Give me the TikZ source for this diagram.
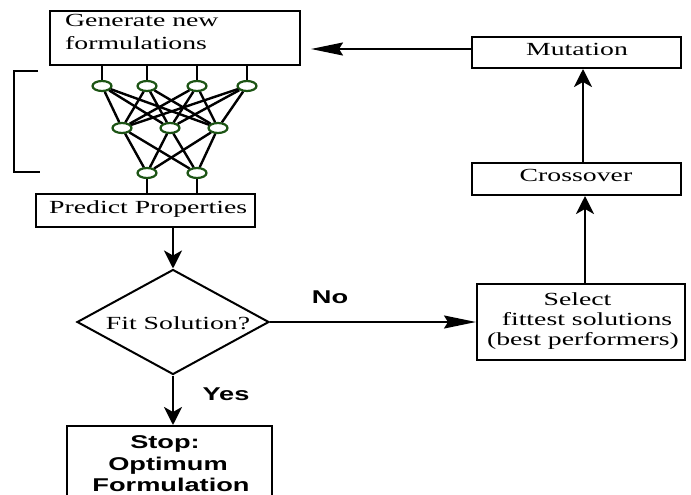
\documentclass[tikz,border=0pt]{standalone}
\usepackage{fontspec}
\setmainfont{Liberation Serif}[FakeStretch=1.5]
\newfontfamily\labelsans{Liberation Sans}[FakeStretch=1.47]
\usetikzlibrary{shapes.geometric,arrows.meta,calc}
\definecolor{netgreen}{RGB}{28,84,20}
\tikzset{
  box/.style={draw, line width=2pt, rectangle, inner sep=0pt, fill=white},
  txt/.style={inner sep=0pt, font=\fontsize{18.5}{22}\selectfont, anchor=base},
  lbl/.style={inner sep=0pt, font=\fontsize{18.5}{22}\selectfont\labelsans\bfseries, anchor=base},
  unit/.style={ellipse, draw=netgreen, line width=2.2pt, fill=white,
    minimum width=19pt, minimum height=10pt, inner sep=0pt},
  link/.style={line width=2.4pt},
  varrow/.style={line width=2.6pt, -{Stealth[length=18pt,width=18pt,inset=5pt]}},
  harrow/.style={line width=2pt, -{Stealth[length=32pt,width=13pt,inset=4pt]}},
}
\begin{document}
\begin{tikzpicture}[x=1pt,y=-1pt]
\useasboundingbox (0,0) rectangle (691,495);
\clip (0,0) rectangle (691,495);

% process boxes
\node[box, minimum width=250pt, minimum height=54pt] (gen) at (175,38) {};
\node[box, minimum width=219pt, minimum height=33pt] (pred) at (145.5,210.5) {};
\node[box, minimum width=209pt, minimum height=31pt] (mut) at (576.5,52.5) {};
\node[box, minimum width=209pt, minimum height=32pt] (cross) at (576.5,179) {};
\node[box, minimum width=208pt, minimum height=76pt] (sel) at (581,322) {};
\node[box, minimum width=205pt, minimum height=94pt] (stop) at (169.5,473) {};
\node[diamond, draw, line width=2pt, fill=white, inner sep=0pt,
      minimum width=192pt, minimum height=105pt] (dia) at (173,322) {};

% box texts
\node[txt, anchor=base west] (gen1) at (65,27) {Generate new};
\node[txt, anchor=base west] (gen2) at (65,50) {formulations};
\node[txt, anchor=base west] (predt) at (49,213) {Predict Properties};
\node[txt] (mutt) at (577,56) {Mutation};
\node[txt] (crosst) at (576,181) {Crossover};
\node[txt] (sel1) at (577.5,305) {Select};
\node[txt] (sel2) at (587,325) {fittest solutions};
\node[txt] (sel3) at (583,345) {(best performers)};
\node[txt] (diat) at (178,329) {Fit Solution?};
\node[lbl] (stop1) at (165,448) {Stop:};
\node[lbl] (stop2) at (168,470) {Optimum};
\node[lbl] (stop3) at (171,491) {Formulation};

% branch labels
\node[lbl] (no) at (330,303) {No};
\node[lbl] (yes) at (226,400) {Yes};

% neural network
\foreach \i/\x in {1/102,2/147,3/197,4/247} \node[unit] (t\i) at (\x,86) {};
\foreach \i/\x in {1/122,2/170,3/218} \node[unit] (m\i) at (\x,128) {};
\foreach \i/\x in {1/147,2/197} \node[unit] (b\i) at (\x,173) {};
\foreach \i in {1,...,4} {
  \draw[link] (t\i) -- (t\i |- gen.south);
  \foreach \j in {1,2,3} \draw[link] (t\i) -- (m\j);
}
\foreach \j in {1,2,3} \foreach \k in {1,2} \draw[link] (m\j) -- (b\k);
\foreach \k in {1,2} \draw[link] (b\k) -- (b\k |- pred.north);

% bracket beside the network
\draw[line width=2pt] (38,71) -- (14,71) -- (14,172) -- (40,172);

% flow arrows
\draw[harrow, shorten >=10pt] (mut.west |- 0,49) -- (gen.east |- 0,49);
\draw[varrow] (cross.north -| 583,0) -- (mut.south -| 583,0);
\draw[varrow] (sel.north -| 585,0) -- (cross.south -| 585,0);
\draw[harrow] (dia.east) -- (sel.west |- dia.east);
\draw[varrow] (pred.south -| dia.north) -- (dia.north);
\draw[varrow] (dia.south) -- (dia.south |- stop.north);
\end{tikzpicture}
\end{document}
